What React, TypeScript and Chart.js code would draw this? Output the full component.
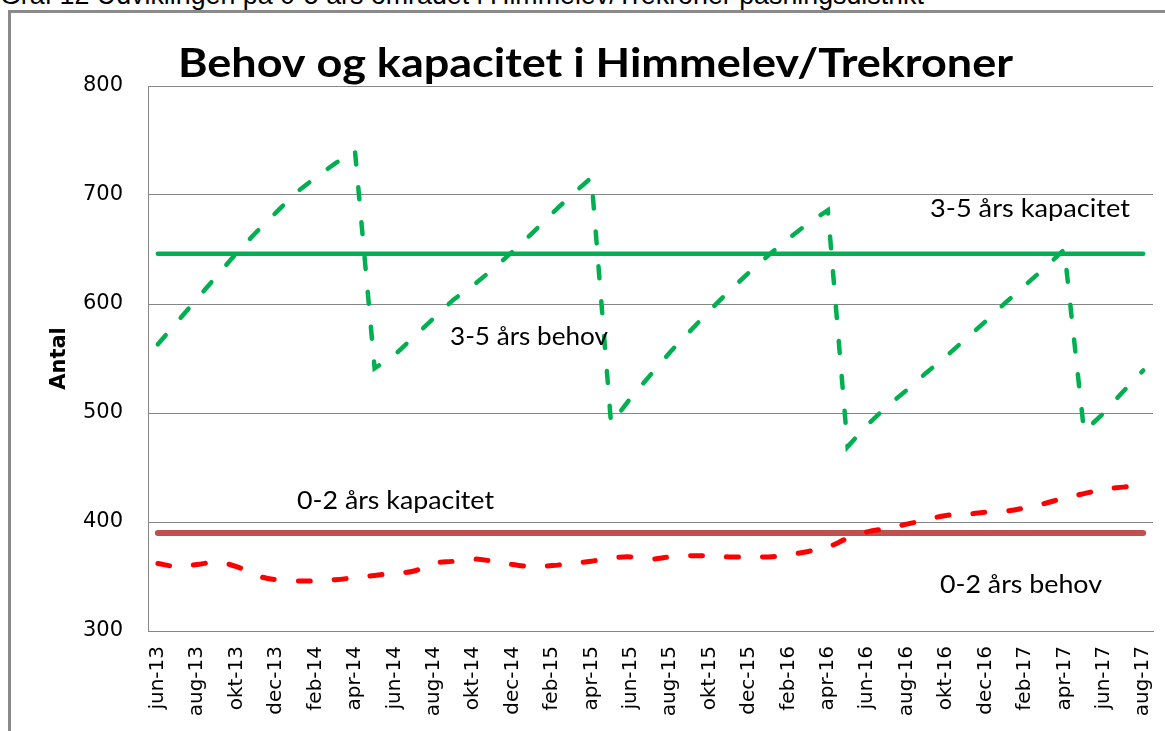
import React, { useEffect, useRef } from "react";
import { Chart, registerables } from "chart.js";

Chart.register(...registerables);

const headerText =
  "Graf 12 Udviklingen på 0-5 års området i Himmelev/Trekroner pasningsdistrikt";
const titleText = "Behov og kapacitet i Himmelev/Trekroner";
const yAxisTitle = "Antal";

const months = [
  "jun-13", "jul-13", "aug-13", "sep-13", "okt-13", "nov-13", "dec-13",
  "jan-14", "feb-14", "mar-14", "apr-14", "maj-14", "jun-14", "jul-14", "aug-14", "sep-14", "okt-14", "nov-14", "dec-14",
  "jan-15", "feb-15", "mar-15", "apr-15", "maj-15", "jun-15", "jul-15", "aug-15", "sep-15", "okt-15", "nov-15", "dec-15",
  "jan-16", "feb-16", "mar-16", "apr-16", "maj-16", "jun-16", "jul-16", "aug-16", "sep-16", "okt-16", "nov-16", "dec-16",
  "jan-17", "feb-17", "mar-17", "apr-17", "maj-17", "jun-17", "jul-17", "aug-17",
];

const behov35 = [
  563, 584, 605, 626, 647, 666, 684, 702, 716, 729, 741,
  541, 553, 570, 587, 604, 617, 632, 648, 665, 683, 700, 716,
  490, 514, 535, 556, 575, 594, 612, 629, 645, 660, 674, 686,
  469, 489, 506, 521, 537, 552, 568, 584, 601, 617, 633, 650,
  483, 500, 520, 539,
];

const kapacitet35 = [
  646, 646, 646, 646, 646, 646, 646, 646, 646, 646, 646,
  646, 646, 646, 646, 646, 646, 646, 646, 646, 646, 646, 646,
  646, 646, 646, 646, 646, 646, 646, 646, 646, 646, 646, 646,
  646, 646, 646, 646, 646, 646, 646, 646, 646, 646, 646, 646,
  646, 646, 646, 646,
];

const behov02 = [
  362, 359, 361, 363, 359, 351, 347, 346, 346, 347, 349,
  351, 353, 355, 362, 364, 366, 364, 361, 359, 360, 362, 364,
  367, 368, 366, 368, 369, 369, 368, 368, 368, 370, 373, 377,
  385, 391, 394, 398, 402, 406, 407, 409, 410, 413, 417, 422,
  426, 430, 432, 434,
];

const kapacitet02 = [
  390, 390, 390, 390, 390, 390, 390, 390, 390, 390, 390,
  390, 390, 390, 390, 390, 390, 390, 390, 390, 390, 390, 390,
  390, 390, 390, 390, 390, 390, 390, 390, 390, 390, 390, 390,
  390, 390, 390, 390, 390, 390, 390, 390, 390, 390, 390, 390,
  390, 390, 390, 390,
];

const yMin = 300;
const yMax = 800;
const yStep = 100;

const seriesNames = ["3-5 års behov", "3-5 års kapacitet", "0-2 års behov", "0-2 års kapacitet"];

const GREEN = "#00B050";
const RED = "#FF0000";
const BROWN_RED = "#C0504D";
const GRID = "#868686";

// text labels drawn on the chart: [text, left, right, baseline, font]
const textLabels: [string, number, number, number, string][] = [
  [titleText, 178, 1013, 77, "bold 40px Lato"],
  [seriesNames[1], 930, 1130, 217, "25px Lato"],
  [seriesNames[0], 450, 608, 345, "25px Lato"],
  [seriesNames[3], 297, 494, 509, "25px Lato"],
  [seriesNames[2], 940, 1102, 593, "25px Lato"],
];

const textPlugin = {
  id: "fittedTexts",
  afterDraw(chart: any) {
    const ctx = chart.ctx as CanvasRenderingContext2D;
    for (const [text, left, right, baseline, font] of textLabels) {
      ctx.save();
      ctx.font = font;
      ctx.fillStyle = "#000";
      ctx.textAlign = "left";
      ctx.textBaseline = "alphabetic";
      const w = ctx.measureText(text).width;
      ctx.translate(left, baseline);
      ctx.scale((right - left) / w, 1);
      ctx.fillText(text, 0, 0);
      ctx.restore();
    }
  },
};

export default function App() {
  const ref = useRef<HTMLCanvasElement>(null);

  useEffect(() => {
    const chart = new Chart(ref.current as HTMLCanvasElement, {
      type: "line",
      data: {
        labels: months,
        datasets: [
          {
            label: seriesNames[0],
            data: behov35,
            borderColor: GREEN,
            borderWidth: 4.5,
            borderDash: [12, 23],
            borderCapStyle: "round",
            tension: 0,
            pointRadius: 0,
            fill: false,
          },
          {
            label: seriesNames[2],
            data: behov02,
            borderColor: RED,
            borderWidth: 5,
            borderDash: [12, 24],
            borderCapStyle: "round",
            tension: 0.4,
            pointRadius: 0,
            fill: false,
          },
          {
            label: seriesNames[1],
            data: kapacitet35,
            borderColor: GREEN,
            borderWidth: 4.5,
            borderCapStyle: "round",
            tension: 0,
            pointRadius: 0,
            fill: false,
          },
          {
            label: seriesNames[3],
            data: kapacitet02,
            borderColor: BROWN_RED,
            borderWidth: 6,
            borderCapStyle: "round",
            tension: 0,
            pointRadius: 0,
            fill: false,
          },
        ],
      },
      options: {
        responsive: false,
        animation: false,
        devicePixelRatio: 1,
        layout: { padding: { top: 86, left: 30, right: 12, bottom: 0 } },
        plugins: {
          legend: { display: false },
          tooltip: { enabled: false },
          title: { display: false },
        },
        scales: {
          x: {
            type: "category",
            offset: true,
            grid: { display: false, drawTicks: false },
            border: { display: true, color: GRID, width: 1 },
            ticks: {
              autoSkip: false,
              maxRotation: 90,
              minRotation: 90,
              padding: 15,
              color: "#000",
              font: { family: "'DejaVu Sans'", size: 20 },
              callback: (_v: any, i: number) => (i % 2 === 0 ? months[i] : null),
            },
            afterFit: (s: any) => {
              s.height = 100;
              s.paddingLeft = 0;
              s.paddingRight = 0;
            },
          },
          y: {
            min: yMin,
            max: yMax,
            grid: { color: GRID, lineWidth: 1, drawTicks: false },
            border: { display: true, color: GRID, width: 1 },
            ticks: {
              stepSize: yStep,
              padding: 25,
              color: "#000",
              font: { family: "'DejaVu Sans'", size: 21 },
            },
            title: {
              display: true,
              text: yAxisTitle,
              color: "#000",
              font: { family: "'DejaVu Sans'", size: 21, weight: "bold" },
              padding: { top: 17, bottom: 0 },
            },
            afterFit: (s: any) => {
              s.width = 118;
            },
          },
        },
      },
      plugins: [textPlugin],
    } as any);
    return () => chart.destroy();
  }, []);

  return (
    <div
      style={{
        position: "fixed",
        left: 0,
        top: 0,
        width: 1165,
        height: 731,
        overflow: "hidden",
        background: "#fff",
      }}
    >
      <div
        style={{
          position: "absolute",
          left: 0,
          top: -17.7,
          fontFamily: "'Liberation Sans', Arial, sans-serif",
          fontSize: 26.8,
          lineHeight: "26.8px",
          whiteSpace: "nowrap",
          color: "#000",
        }}
      >
        {headerText}
      </div>
      <div
        style={{
          position: "absolute",
          left: 8,
          top: 10,
          width: 1400,
          height: 1000,
          borderLeft: "3px solid #8a8a8a",
          borderTop: "3px solid #8a8a8a",
        }}
      />
      <canvas
        ref={ref}
        width={1165}
        height={731}
        style={{ position: "absolute", left: 0, top: 0 }}
      />
    </div>
  );
}
